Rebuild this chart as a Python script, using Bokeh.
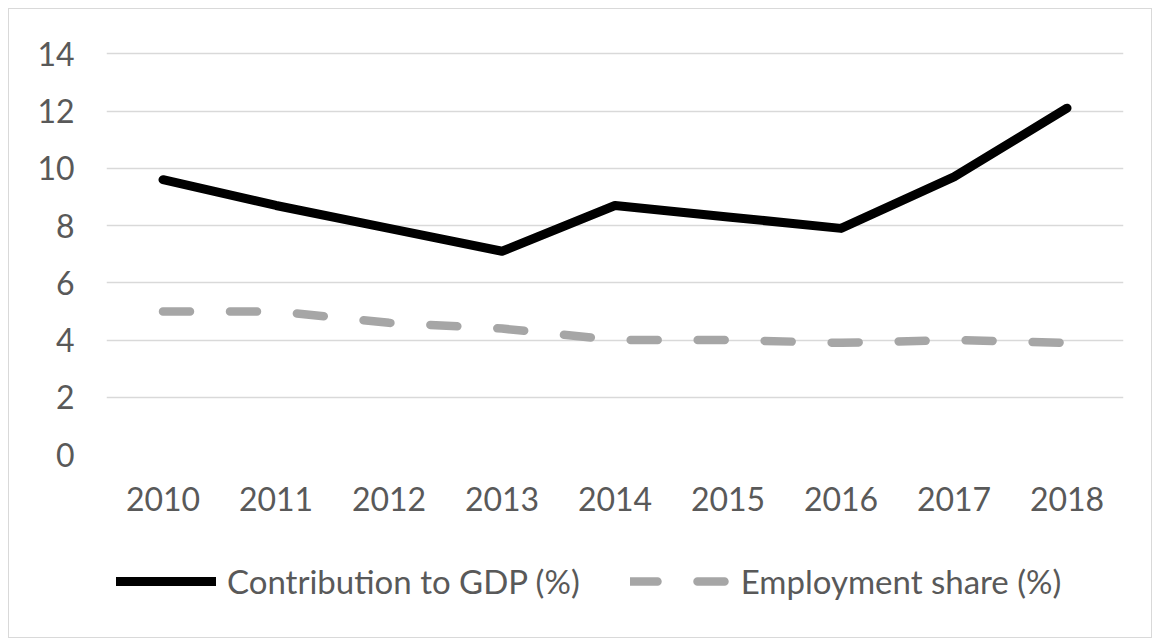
from bokeh.plotting import figure
from bokeh.layouts import column
from bokeh.models import Range1d, FactorRange, FixedTicker, Legend, LegendItem
from bokeh.embed import file_html
from bokeh.resources import INLINE

years = ["2010", "2011", "2012", "2013", "2014", "2015", "2016", "2017", "2018"]
gdp_contribution = [9.6, 8.7, 7.9, 7.1, 8.7, 8.3, 7.9, 9.7, 12.1]
employment_share = [5.0, 5.0, 4.6, 4.4, 4.0, 4.0, 3.9, 4.0, 3.9]
y_ticks = [0, 2, 4, 6, 8, 10, 12, 14]
series_names = ["Contribution to GDP (%)", "Employment share (%)"]

FONT = "Lato"
TXT = "#595959"
GDP_STYLE = dict(line_color="black", line_width=9, line_cap="round", line_join="round")
EMP_STYLE = dict(line_color="#a6a6a6", line_width=8.5, line_cap="round",
                 line_join="round", line_dash="27 40")

p = figure(width=1142, height=530, x_range=FactorRange(factors=years),
           y_range=Range1d(0, 14.08), output_backend="svg", toolbar_location=None,
           min_border_left=97, min_border_right=28, min_border_top=42, min_border_bottom=85)
p.outline_line_color = None
p.background_fill_color = "white"
p.border_fill_color = "white"

p.xgrid.grid_line_color = None
p.ygrid.grid_line_color = "#d9d9d9"
p.ygrid.grid_line_width = 1.3
p.yaxis.ticker = FixedTicker(ticks=y_ticks)

for ax in (p.xaxis, p.yaxis):
    ax.axis_line_color = None
    ax.major_tick_line_color = None
    ax.minor_tick_line_color = None
    ax.major_tick_out = 0
    ax.major_tick_in = 0
    ax.major_label_text_font = FONT
    ax.major_label_text_font_size = "32px"
    ax.major_label_text_color = TXT
p.yaxis.major_label_standoff = 32
p.xaxis.major_label_standoff = 32

p.line(years, gdp_contribution, **GDP_STYLE)
p.line(years, employment_share, **EMP_STYLE)

# legend strip below the chart (series drawn outside its visible y range; only the legend shows)
p2 = figure(width=1142, height=98, x_range=FactorRange(factors=years), y_range=Range1d(100, 101),
            output_backend="svg", toolbar_location=None,
            min_border_left=0, min_border_right=0, min_border_top=0, min_border_bottom=0)
p2.axis.visible = False
p2.grid.visible = False
p2.outline_line_color = None
p2.border_fill_color = "white"
k1 = p2.line(years, gdp_contribution, **GDP_STYLE)
k2 = p2.line(years, employment_share, **EMP_STYLE)

legend = Legend(items=[LegendItem(label=series_names[0], renderers=[k1]),
                       LegendItem(label=series_names[1], renderers=[k2])],
                location=(10, 36), orientation="horizontal",
                glyph_width=100, glyph_height=40, label_height=40,
                label_standoff=11, spacing=50, padding=0, margin=0,
                border_line_color=None, background_fill_alpha=0,
                label_text_font=FONT, label_text_font_size="33px",
                label_text_color=TXT)
p2.add_layout(legend, "center")

layout = column(p, p2, spacing=0,
                styles={"border": "1px solid #d9d9d9", "margin-left": "8px", "margin-top": "8px"})

open("out.html", "w").write(file_html(layout, INLINE))
